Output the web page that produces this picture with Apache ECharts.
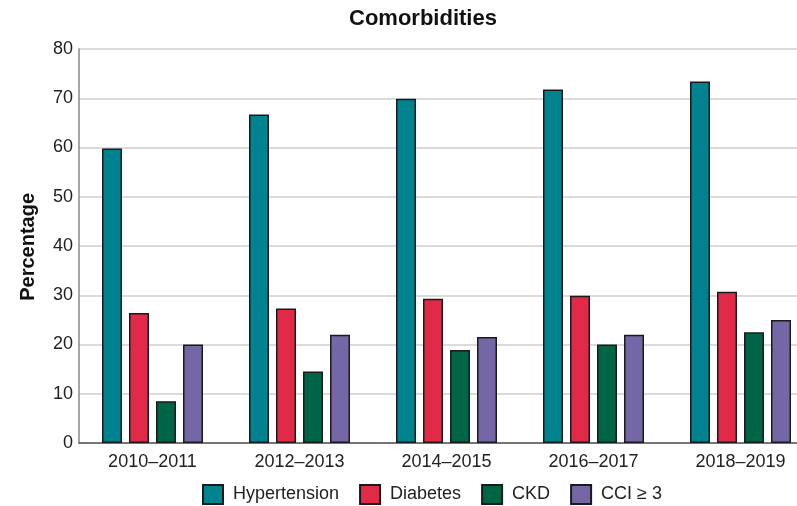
<!DOCTYPE html>
<html><head><meta charset="utf-8">
<script src="https://cdn.jsdelivr.net/npm/echarts@6/dist/echarts.min.js"></script>
<style>html,body{margin:0;padding:0;background:#fff;overflow:hidden;width:797px;height:506px}#c{width:814px;height:506px}</style>
</head><body><div id="c"></div>
<script>
const categories = ['2010\u20132011','2012\u20132013','2014\u20132015','2016\u20132017','2018\u20132019'];
const seriesNames = ['Hypertension','Diabetes','CKD','CCI \u2265 3'];
const hypertension = [59.8, 66.7, 69.9, 71.8, 73.4];
const diabetes = [26.4, 27.3, 29.3, 29.9, 30.7];
const ckd = [8.5, 14.5, 18.9, 20.0, 22.5];
const cci = [20.0, 22.0, 21.5, 22.0, 25.0];
const yTicks = [0, 10, 20, 30, 40, 50, 60, 70, 80];
const colors = ['#00838F', '#E02A48', '#006546', '#7566A6'];
const values = [hypertension, diabetes, ckd, cci];

const chart = echarts.init(document.getElementById('c'), null, {renderer: 'canvas'});
const font = 'Liberation Sans, Arial, sans-serif';
chart.setOption({
  animation: false,
  title: {text: 'Comorbidities', left: 344, top: 3,
    textStyle: {fontFamily: font, fontSize: 22, fontWeight: 'bold', color: '#111'}},
  legend: {left: 202, top: 484, padding: 0, itemWidth: 20, itemHeight: 19, itemGap: 20,
    icon: 'rect',
    textStyle: {fontFamily: font, fontSize: 18, color: '#222', padding: [0, 0, 0, 5]},
    data: seriesNames},
  grid: {left: 79, right: 0, top: 49, bottom: 63, containLabel: false},
  xAxis: {type: 'category', data: categories,
    axisLine: {lineStyle: {color: '#555', width: 1.5}},
    axisTick: {show: false},
    axisLabel: {fontFamily: font, fontSize: 18, color: '#222', margin: 10}},
  yAxis: {type: 'value', min: yTicks[0], max: yTicks[yTicks.length-1], interval: 10,
    axisLine: {show: true, lineStyle: {color: '#888', width: 1.5}},
    axisTick: {show: false},
    splitLine: {lineStyle: {color: '#cfcfcf', width: 1.5}},
    axisLabel: {fontFamily: font, fontSize: 18, color: '#222', margin: 6}},
  graphic: [{type: 'text', left: 18, top: 193, rotation: Math.PI/2,
    style: {text: 'Percentage', font: 'bold 20px ' + font, fill: '#111'}}],
  series: seriesNames.map((n, i) => ({
    name: n, type: 'bar', data: values[i], barWidth: 20, barGap: '35%',
    itemStyle: {color: colors[i], borderColor: '#1a1a1a', borderWidth: 1.5}
  }))
});
</script></body></html>
